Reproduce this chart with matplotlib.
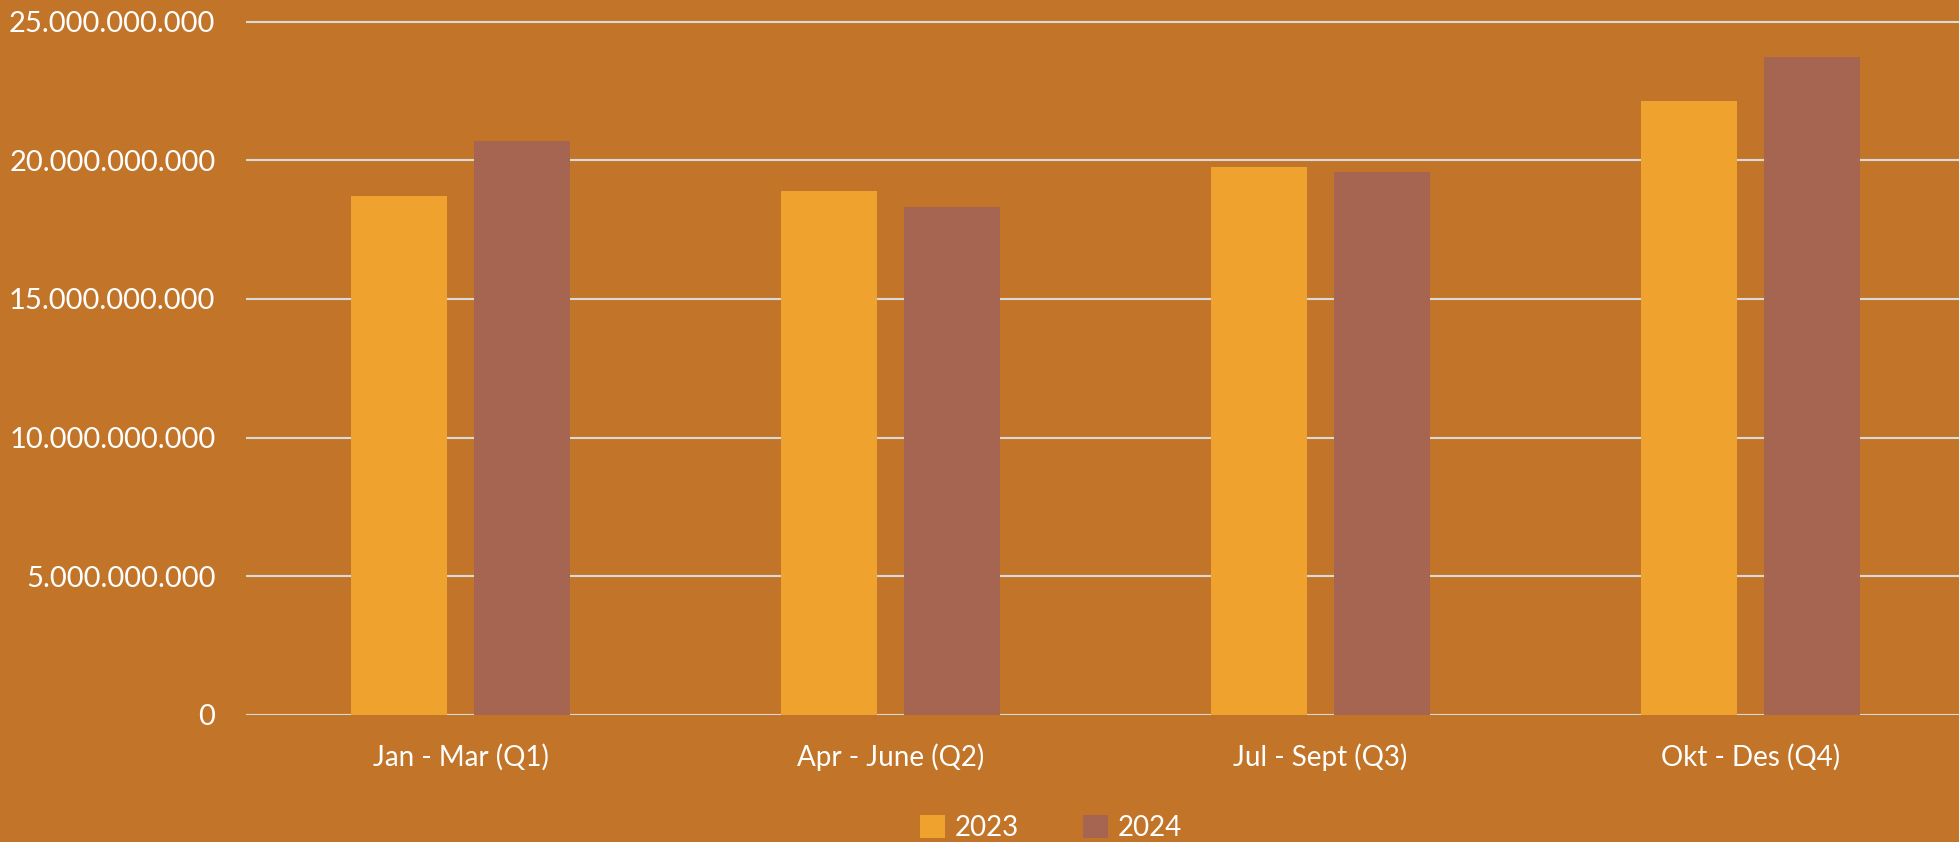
import matplotlib
matplotlib.use("Agg")
import matplotlib.pyplot as plt
from matplotlib.ticker import FuncFormatter, MultipleLocator
from matplotlib.patches import Patch
import numpy as np

categories = ["Jan - Mar (Q1)", "Apr - June (Q2)", "Jul - Sept (Q3)", "Okt - Des (Q4)"]
series_names = ["2023", "2024"]
values_2023 = [18.71e9, 18.90e9, 19.76e9, 22.15e9]
values_2024 = [20.70e9, 18.32e9, 19.57e9, 23.72e9]

BG = "#C27529"
C2023 = "#F0A22F"
C2024 = "#A66550"
GRID = "#D9D9D9"
FONT = "Lato"
FS = 20

W, H = 1959, 842
fig = plt.figure(figsize=(W / 100, H / 100), dpi=100)
fig.patch.set_facecolor(BG)

px_per_b = 693.0 / 25.0
ytop = 25.2
height_px = px_per_b * ytop
bottom_px = H - 714.7
left_px = 246
width_px = 1719
ax = fig.add_axes([left_px / W, bottom_px / H, width_px / W, height_px / H])
ax.set_facecolor(BG)

x = np.arange(len(categories))
bw = 0.2234
off = 0.1431
ax.bar(x - off, values_2023, width=bw, color=C2023, zorder=3, label=series_names[0])
ax.bar(x + off, values_2024, width=bw, color=C2024, zorder=3, label=series_names[1])

ax.set_xlim(-0.5, 3.5)
ax.set_ylim(0, ytop * 1e9)
ax.yaxis.set_major_locator(MultipleLocator(5e9))
ax.yaxis.set_major_formatter(FuncFormatter(lambda v, p: f"{int(round(v)):,}".replace(",", ".")))
ax.grid(axis="y", color=GRID, linewidth=1.5, zorder=0)
ax.set_axisbelow(True)
for s in ax.spines.values():
    s.set_visible(False)
ax.tick_params(axis="both", length=0, colors="white")
ax.tick_params(axis="y", pad=22, labelsize=21)
ax.tick_params(axis="x", pad=21, labelsize=FS)
ax.set_xticks(x)
ax.set_xticklabels(categories)
for lab in ax.get_xticklabels() + ax.get_yticklabels():
    lab.set_fontfamily(FONT)
    lab.set_color("white")

handles = [Patch(facecolor=C2023, label=series_names[0]), Patch(facecolor=C2024, label=series_names[1])]
leg = fig.legend(handles=handles, loc="center", bbox_to_anchor=(1051 / W, 1 - 828 / H),
                 ncol=2, frameon=False, handlelength=0.9, handleheight=0.9,
                 handletextpad=0.35, columnspacing=2.3,
                 prop={"family": FONT, "size": FS})
for t in leg.get_texts():
    t.set_color("white")

fig.savefig("out.png", dpi=100, facecolor=BG)
